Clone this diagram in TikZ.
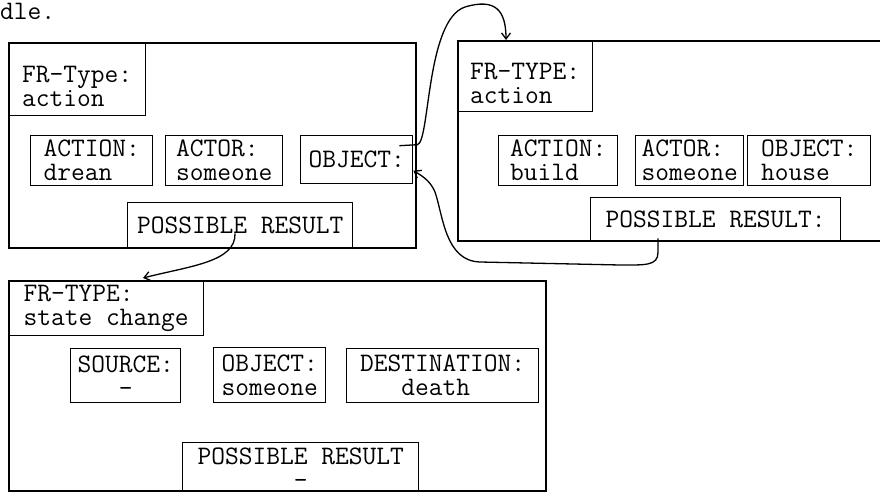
\documentclass[tikz,border=0pt]{standalone}
\usetikzlibrary{positioning, arrows.meta, calc}

\tikzset{
  box/.style 2 args={minimum width=#1pt, minimum height=#2pt},
  frame/.style={draw, line width=1.6pt, anchor=north west, inner sep=0pt},
  slot/.style={draw, line width=1.4pt, anchor=north west, align=left, inner sep=0pt,
    font=\ttfamily\fontsize{26.7}{24}\selectfont},
  link/.style={line width=1.3pt, -{Straight Barb[length=6pt, width=9pt]}}
}

\begin{document}
\begin{tikzpicture}[x=1pt, y=-1pt]
\useasboundingbox (0,0) rectangle (880,492);
\clip (0,0) rectangle (880,492);

% Nodes
\node[anchor=base west, inner sep=0pt, font=\ttfamily\fontsize{26.7}{24}\selectfont] (dle) at (0,20) {dle.};

\node[frame, box={407}{205}] (frameA) at (8,42) {};
\node[slot, box={137}{73}] (typeA) at (8,42) {\rule{0pt}{31pt}FR-Type:\\action};
\node[slot, box={122}{50}] (actA) at (30,135) {ACTION:\\drean};
\node[slot, box={117}{50}] (actorA) at (165,135) {ACTOR:\\someone};
\node[slot, box={112}{48}] (objA) at (300,135) {OBJECT:};
\node[slot, box={225}{45}] (resA) at (127,202) {POSSIBLE RESULT};

\node[frame, box={470}{200}] (frameB) at (457,40) {};
\node[slot, box={135}{71}] (typeB) at (457,40) {\rule{0pt}{31pt}FR-TYPE:\\action};
\node[slot, box={119}{50}] (actB) at (498,135) {ACTION:\\build};
\node[slot, box={108}{50}] (actorB) at (635,135) {ACTOR:\\someone};
\node[slot, box={123}{50}] (objB) at (747,135) {OBJECT:\\house};
\node[slot, box={250}{43}] (resB) at (590,197) {POSSIBLE RESULT:};

\node[frame, box={537}{210}] (frameC) at (8,280) {};
\node[slot, box={195}{55}] (typeC) at (8,280) {FR-TYPE:\\state change};
\node[slot, box={110}{54}] (srcC) at (70,348) {SOURCE:\\\hphantom{SOU}-};
\node[slot, box={112}{55}] (objC) at (213,347) {OBJECT:\\someone};
\node[slot, box={192}{54}] (dstC) at (346,348) {DESTINATION:\\\hphantom{DES}death};
\node[slot, box={236}{50}] (resC) at (182,442) {POSSIBLE RESULT\\\hphantom{POSSIBL}-};

% Arrows
\draw[link] ([xshift=-14pt,yshift=14pt]objA.east) -- ([xshift=4pt,yshift=15pt]objA.east)
  .. controls (430,142) and (426,20) .. (465,7)
  .. controls (495,-2) and (506,10) .. ([xshift=49pt]typeB.north west);
\draw[link] ([xshift=68pt,yshift=3pt]resB.south west) -- ++(0,14)
  .. controls (658,266) and (645,265) .. (620,265) -- (480,262)
  .. controls (445,261) and (443,215) .. (435,192)
  .. controls (431,183) and (426,178) .. ([yshift=-11pt]objA.east);
\draw[link] ([xshift=108pt,yshift=15pt]resA.south west)
  .. controls (236,262) and (190,266) .. ([xshift=135pt,yshift=2pt]typeC.north west);
\end{tikzpicture}
\end{document}
